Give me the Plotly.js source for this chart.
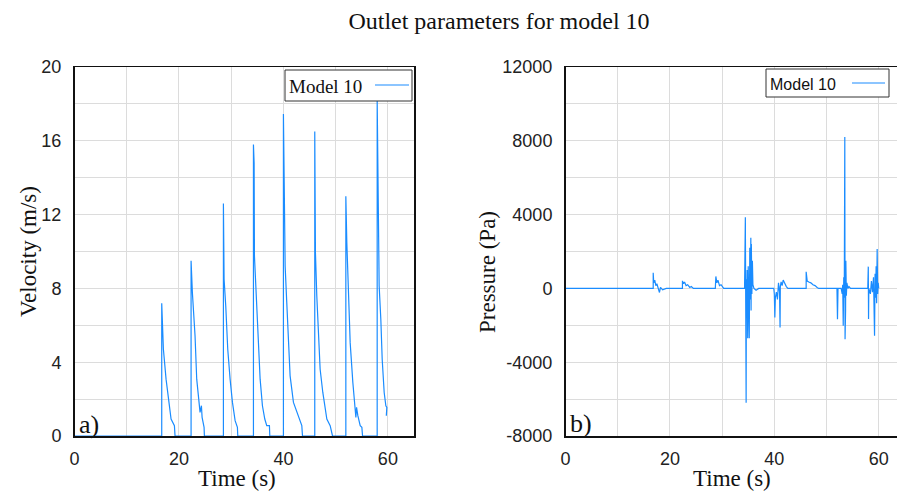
<!DOCTYPE html>
<html>
<head>
<meta charset="utf-8">
<script src="https://cdn.plot.ly/plotly-3.0.1.min.js"></script>
<style>html,body{margin:0;padding:0;background:#fff;}#chart{width:897px;height:491px;}</style>
</head>
<body>
<div id="chart"></div>
<script>
// ---- data ----
const chartTitle = "Outlet parameters for model 10";
const seriesName = "Model 10";

const velTime = [0, 16.70, 16.70, 16.83, 17.02, 17.53, 17.98, 18.49, 19.13, 19.25,
  22.32, 22.32, 22.57, 23.08, 23.40, 24.04, 24.30, 24.43, 24.81, 24.87,
  28.51, 28.51, 28.64, 28.96, 29.34, 29.79, 30.24, 30.75, 31.19, 31.26,
  34.26, 34.26, 34.39, 34.45, 34.77, 35.09, 35.34, 35.54, 35.98, 36.43, 36.81, 37.32, 37.39,
  40.00, 40.00, 40.13, 40.33, 40.64, 40.96, 41.28, 41.92, 42.56, 43.07, 43.52, 43.65,
  46.00, 46.00, 46.13, 46.39, 46.71, 47.03, 47.54, 47.99, 48.31, 48.95, 49.40,
  51.95, 51.95, 52.14, 52.46, 52.78, 53.29, 53.55, 53.74, 53.87, 54.00, 54.25, 54.70, 55.02, 55.15,
  57.95, 57.95, 58.14, 58.33, 58.65, 58.91, 59.29, 59.61, 59.80, 59.70];
const velocity = [0, 0, 7.2, 6.5, 4.7, 3.08, 2.0, 0.92, 0.56, 0,
  0, 9.5, 7.77, 5.42, 3.08, 1.28, 1.64, 1.01, 0.47, 0,
  0, 12.6, 8.49, 7.04, 4.7, 3.08, 1.82, 0.83, 0.47, 0,
  0, 15.8, 14.8, 9.75, 7.77, 5.42, 4.16, 3.08, 1.64, 0.92, 0.56, 0.56, 0,
  0, 17.45, 13.44, 9.2, 7.23, 4.7, 3.26, 1.82, 1.28, 0.92, 0.56, 0,
  0, 16.5, 9.93, 7.59, 5.42, 3.62, 2.36, 1.55, 0.92, 0.56, 0,
  0, 13.0, 10.47, 7.77, 5.06, 2.9, 2.0, 1.55, 1.01, 1.55, 1.1, 0.56, 0.47, 0,
  0, 18.2, 12.63, 8.13, 6.32, 4.16, 2.36, 1.64, 1.55, 1.1];

const presTime = [0, 16.8, 16.8, 16.9, 17.1, 17.3, 17.5, 17.8, 18.0, 18.2, 18.6, 19.3,
  22.4, 22.4, 22.6, 22.8, 23.1, 23.4, 23.8, 24.1, 24.5,
  28.7, 28.8, 29.0, 29.2, 29.5, 29.8, 30.3,
  34.3, 34.45, 34.5, 34.55, 34.6, 34.65, 34.7, 34.8, 34.9, 35.0, 35.1, 35.2, 35.3, 35.4, 35.5, 35.55, 35.6, 35.7, 35.8, 35.9, 36.1, 36.5, 37.0,
  39.9, 40.0, 40.1, 40.2, 40.4, 40.6, 40.8, 41.0, 41.1, 41.15, 41.3, 41.5, 41.7, 42.0, 42.3, 42.6,
  46.1, 46.1, 46.3, 46.6, 47.0, 47.4, 47.8, 48.2, 48.5,
  52.0, 52.1, 52.2, 52.8, 53.0, 53.1, 53.2, 53.3, 53.4, 53.5, 53.55, 53.6, 53.65, 53.7, 53.8, 53.9, 54.1, 54.3, 54.6,
  57.9, 58.0, 58.05, 58.1, 58.4, 58.6, 58.8, 59.0, 59.2, 59.3, 59.4, 59.5, 59.6, 59.7, 59.8, 59.9, 60.0];
const pressure = [0, 0, 850, 300, 450, 150, 250, 0, -220, 50, -80, 0,
  0, 410, 250, 350, 150, 200, 50, 100, 0,
  0, 650, 300, 450, 150, 200, 0,
  0, 3860, -2000, 3700, -6200, 500, -1500, 1000, -2700, 1200, -1000, -2700, 2200, -600, 2750, -1200, 2400, -300, 1500, 200, 0, -100, 0,
  0, -300, -1575, -500, -200, -600, 300, -200, -2120, 100, 350, 150, 450, 250, 100, 0,
  0, 905, 400, 350, 300, 200, 150, 50, 0,
  0, -1665, 0, 0, -300, 200, -2030, 600, -500, 8200, -2750, 2000, -1200, 1500, -400, 300, 0, 100, 0,
  0, 1180, -1665, 0, -300, 400, -200, 600, -2570, 800, -500, 1200, -800, 2140, -300, 300, 0];

const velTicks = [0, 4, 8, 12, 16, 20];
const presTicks = [-8000, -4000, 0, 4000, 8000, 12000];
const timeTicks = [0, 20, 40, 60];

// ---- styling ----
const lineColor = '#1a8cff';
const gridColor = '#dcdcdc';
const serif = 'Liberation Serif, Times New Roman, serif';
const sans = 'Liberation Sans, Arial, sans-serif';
const W = 897, H = 491;
const px = v => v / W, py = v => 1 - v / H;

const traces = [
  {x: velTime, y: velocity, type: 'scatter', mode: 'lines', name: seriesName,
   line: {color: lineColor, width: 1.2}, xaxis: 'x', yaxis: 'y', showlegend: false},
  {x: presTime, y: pressure, type: 'scatter', mode: 'lines', name: seriesName,
   line: {color: lineColor, width: 1.2}, xaxis: 'x2', yaxis: 'y2', showlegend: false}
];

const commonAxis = {
  showline: true, mirror: true, linecolor: '#111', linewidth: 1.5,
  showgrid: true, gridcolor: gridColor, gridwidth: 1, zeroline: false,
  ticks: '', tickfont: {family: sans, size: 18, color: '#222'}, fixedrange: true
};

const layout = {
  width: W, height: H,
  margin: {l: 0, r: 0, t: 0, b: 0},
  paper_bgcolor: '#fff', plot_bgcolor: '#fff',
  showlegend: false,
  xaxis: Object.assign({}, commonAxis, {domain: [px(74.5), px(414)], range: [0, 65],
    tickvals: timeTicks, ticktext: timeTicks.map(String), ticklabelstandoff: 6,
    minor: {dtick: 10, tick0: 0, showgrid: true, gridcolor: gridColor, ticks: ''}, anchor: 'y'}),
  yaxis: Object.assign({}, commonAxis, {domain: [py(436), py(67)], range: [0, 20],
    tickvals: velTicks, ticktext: velTicks.map(String), ticklabelstandoff: 8,
    minor: {dtick: 2, tick0: 0, showgrid: true, gridcolor: gridColor, ticks: ''}, anchor: 'x'}),
  xaxis2: Object.assign({}, commonAxis, {domain: [px(565.5), 1], range: [0, 63.5],
    tickvals: timeTicks, ticktext: timeTicks.map(String), ticklabelstandoff: 6,
    minor: {dtick: 10, tick0: 0, showgrid: true, gridcolor: gridColor, ticks: ''}, anchor: 'y2'}),
  yaxis2: Object.assign({}, commonAxis, {domain: [py(436), py(67)], range: [-8000, 12000],
    tickvals: presTicks, ticktext: presTicks.map(String), ticklabelstandoff: 8,
    minor: {dtick: 2000, tick0: 0, showgrid: true, gridcolor: gridColor, ticks: ''}, anchor: 'x2'}),
  title: {text: chartTitle, font: {family: serif, size: 24, color: '#111'},
    x: px(499), xanchor: 'center', y: py(21), yanchor: 'middle'},
  shapes: [
    // legend boxes
    {type: 'rect', xref: 'paper', yref: 'paper', x0: px(285), x1: px(412), y0: py(70), y1: py(101),
     line: {color: '#333', width: 1}, fillcolor: '#fff'},
    {type: 'line', xref: 'paper', yref: 'paper', x0: px(375), x1: px(409), y0: py(85), y1: py(85),
     line: {color: lineColor, width: 1.2}},
    {type: 'rect', xref: 'paper', yref: 'paper', x0: px(766), x1: px(889), y0: py(69), y1: py(97),
     line: {color: '#333', width: 1}, fillcolor: '#fff'},
    {type: 'line', xref: 'paper', yref: 'paper', x0: px(852), x1: px(885), y0: py(83), y1: py(83),
     line: {color: lineColor, width: 1.2}}
  ],
  annotations: [
    {text: seriesName, xref: 'paper', yref: 'paper', x: px(287), y: py(86), xanchor: 'left', yanchor: 'middle',
     showarrow: false, font: {family: serif, size: 19, color: '#111'}},
    {text: seriesName, xref: 'paper', yref: 'paper', x: px(768), y: py(84), xanchor: 'left', yanchor: 'middle',
     showarrow: false, font: {family: sans, size: 16, color: '#111'}},
    {text: 'a)', xref: 'paper', yref: 'paper', x: px(77), y: py(424), xanchor: 'left', yanchor: 'middle',
     showarrow: false, font: {family: serif, size: 26, color: '#111'}},
    {text: 'b)', xref: 'paper', yref: 'paper', x: px(568), y: py(423), xanchor: 'left', yanchor: 'middle',
     showarrow: false, font: {family: serif, size: 26, color: '#111'}},
    {text: 'Velocity (m/s)', xref: 'paper', yref: 'paper', x: px(28), y: py(252), textangle: -90,
     xanchor: 'center', yanchor: 'middle', showarrow: false, font: {family: serif, size: 23, color: '#111'}},
    {text: 'Pressure (Pa)', xref: 'paper', yref: 'paper', x: px(487), y: py(272), textangle: -90,
     xanchor: 'center', yanchor: 'middle', showarrow: false, font: {family: serif, size: 23, color: '#111'}},
    {text: 'Time (s)', xref: 'paper', yref: 'paper', x: px(237), y: py(478),
     xanchor: 'center', yanchor: 'middle', showarrow: false, font: {family: serif, size: 23, color: '#111'}},
    {text: 'Time (s)', xref: 'paper', yref: 'paper', x: px(732), y: py(478),
     xanchor: 'center', yanchor: 'middle', showarrow: false, font: {family: serif, size: 23, color: '#111'}}
  ]
};

Plotly.newPlot('chart', traces, layout, {staticPlot: true, displayModeBar: false});
</script>
</body>
</html>
